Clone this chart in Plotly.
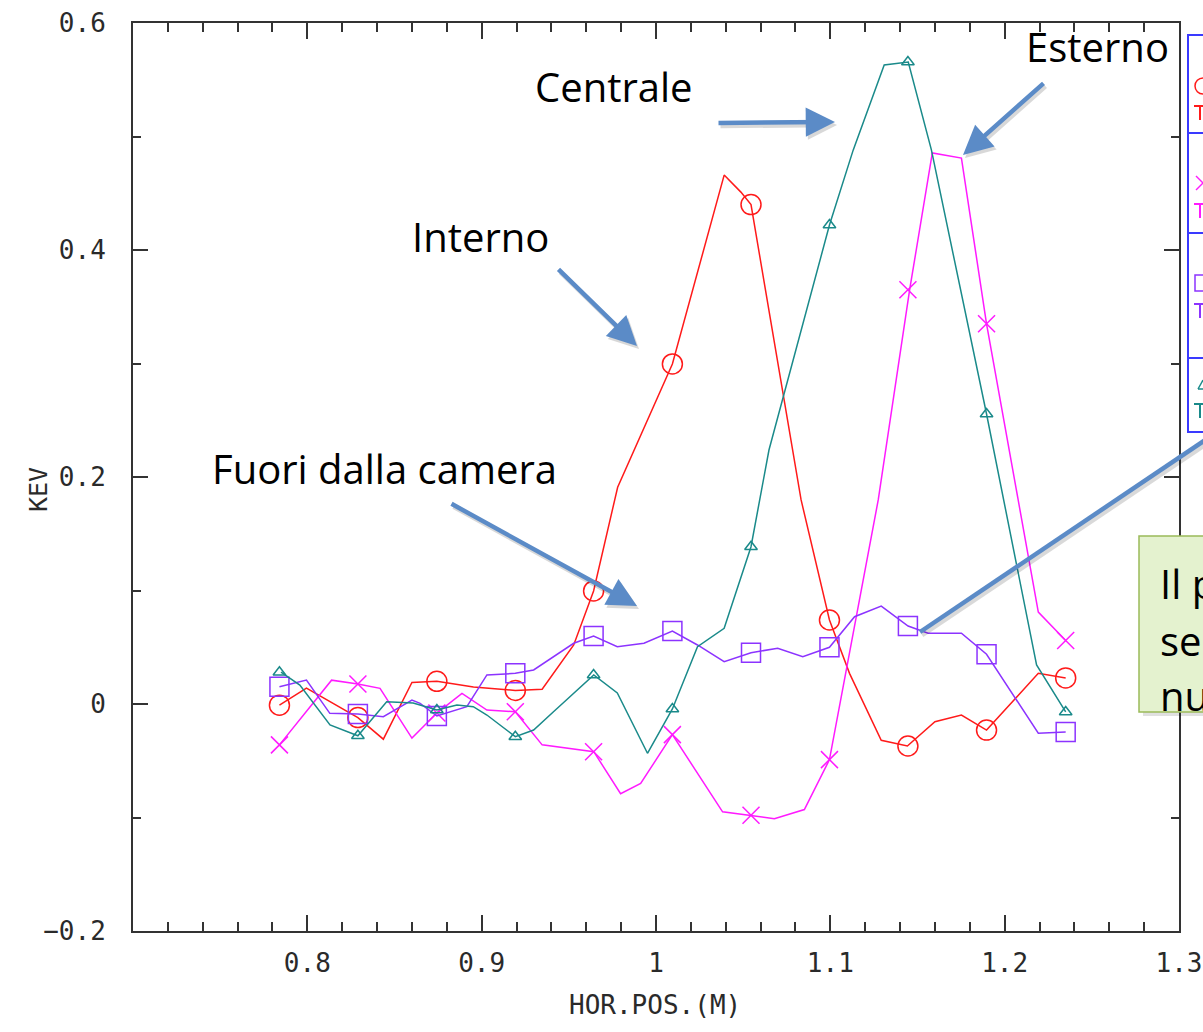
import plotly.graph_objects as go

# ---------------- data ----------------
marker_x = [0.784, 0.829, 0.8743, 0.9193, 0.9642, 1.0094, 1.0545, 1.0995, 1.1445, 1.1896, 1.235]

red_x = [0.784, 0.7995, 0.829, 0.8436, 0.860, 0.8743, 0.8953, 0.9193, 0.9347, 0.9528, 0.9642, 0.978,
         1.0094, 1.0391, 1.0487, 1.0545, 1.0832, 1.0995, 1.111, 1.1292, 1.1442, 1.16, 1.1752, 1.1896,
         1.2193, 1.235]
red_y = [-0.001, 0.014, -0.012, -0.031, 0.019, 0.020, 0.015, 0.012, 0.013, 0.052, 0.0996, 0.191,
         0.2996, 0.466, 0.451, 0.440, 0.180, 0.074, 0.027, -0.032, -0.037, -0.0156, -0.0097, -0.023,
         0.027, 0.023]
red_marker_y = [-0.001, -0.012, 0.020, 0.012, 0.0996, 0.2996, 0.440, 0.074, -0.037, -0.023, 0.023]

mag_x = [0.784, 0.8139, 0.829, 0.8417, 0.860, 0.8743, 0.8887, 0.903, 0.9193, 0.9347, 0.9643, 0.9797,
         0.9912, 1.0094, 1.0382, 1.0545, 1.0679, 1.0851, 1.0995, 1.1275, 1.1455, 1.1585, 1.1752, 1.1896,
         1.2193, 1.235]
mag_y = [-0.036, 0.021, 0.0176, 0.0138, -0.030, -0.008, 0.0094, -0.0053, -0.0068, -0.036, -0.042, -0.079,
         -0.070, -0.027, -0.095, -0.098, -0.101, -0.093, -0.049, 0.180, 0.365, 0.4855, 0.481, 0.335,
         0.081, 0.056]
mag_marker_y = [-0.036, 0.0176, -0.008, -0.0068, -0.042, -0.027, -0.098, -0.049, 0.365, 0.335, 0.056]

purple_x = [0.784, 0.7995, 0.8129, 0.829, 0.8436, 0.860, 0.8647, 0.8743, 0.8915, 0.903, 0.9193, 0.9298,
            0.9528, 0.9642, 0.9778, 0.9931, 1.0094, 1.0238, 1.0391, 1.0545, 1.0698, 1.0842, 1.0995,
            1.1139, 1.1292, 1.1446, 1.1561, 1.1752, 1.1896, 1.2193, 1.235]
purple_y = [0.0152, 0.0211, -0.0082, -0.0088, -0.0112, 0.0035, 0.0006, -0.0106, -0.0024, 0.0256, 0.027,
            0.030, 0.0535, 0.0599, 0.0505, 0.0535, 0.0643, 0.052, 0.0373, 0.0452, 0.0491, 0.0417, 0.050,
            0.0769, 0.0863, 0.0687, 0.0623, 0.0623, 0.0438, -0.0258, -0.0247]
purple_marker_y = [0.0152, -0.0088, -0.0106, 0.027, 0.0599, 0.0643, 0.0452, 0.050, 0.0687, 0.0438, -0.0247]

teal_x = [0.7849, 0.7957, 0.813, 0.829, 0.8455, 0.8607, 0.8743, 0.8858, 0.8952, 0.903, 0.9193, 0.9298,
          0.9412, 0.9643, 0.9778, 0.9951, 1.0094, 1.0238, 1.0391, 1.0545, 1.0648, 1.0995, 1.1131, 1.1309,
          1.1447, 1.158, 1.1896, 1.2183, 1.235]
teal_y = [0.028, 0.0167, -0.0185, -0.028, 0.002, 0.0009, -0.0053, -0.0009, -0.0024, -0.0097, -0.0288,
          -0.0229, -0.0068, 0.0256, 0.0097, -0.0434, -0.0044, 0.0505, 0.0667, 0.1386, 0.2238, 0.422, 0.488,
          0.563, 0.5656, 0.488, 0.2555, 0.0344, -0.007]
teal_marker_y = [0.028, -0.028, -0.0053, -0.0288, 0.0256, -0.0044, 0.1386, 0.422, 0.5656, 0.2555, -0.007]

x_tickvals = [0.8, 0.9, 1.0, 1.1, 1.2, 1.3]
x_ticktext = ["0.8", "0.9", "1", "1.1", "1.2", "1.3"]
y_tickvals = [-0.2, 0, 0.2, 0.4, 0.6]
y_ticktext = ["\u22120.2", "0", "0.2", "0.4", "0.6"]

x_title = "HOR.POS.(M)"
y_title = "KEV"
labels = ["Centrale", "Interno", "Fuori dalla camera", "Esterno"]
note_lines = ["Il p", "se", "nu"]

# ---------------- styling ----------------
RED = "#ff1a1a"
MAG = "#ff1aff"
PUR = "#8c33ff"
TEAL = "#1a8a8a"
ARROW = "#5b8bc7"
AXC = "#333333"
TXC = "#2a2a2a"
LEGC = "#3a3aff"

W, H = 1203, 1032
L, R, T, B = 133, 24, 23, 101
PW, PH = W - L - R, H - T - B


def px(xp):   # page pixel -> paper x
    return (xp - L) / PW


def py(yp):   # page pixel -> paper y
    return (H - B - yp) / PH


fig = go.Figure()

series = [
    (red_x, red_y, red_marker_y, RED, "circle-open", 20),
    (mag_x, mag_y, mag_marker_y, MAG, "x-thin-open", 17),
    (purple_x, purple_y, purple_marker_y, PUR, "square-open", 19),
    (teal_x, teal_y, teal_marker_y, TEAL, "triangle-up-open", 11),
]
for lx, ly, my, col, sym, sz in series:
    fig.add_trace(go.Scatter(x=lx, y=ly, mode="lines", line=dict(color=col, width=1.5),
                             showlegend=False, hoverinfo="skip"))
    fig.add_trace(go.Scatter(x=marker_x, y=my, mode="markers",
                             marker=dict(symbol=sym, size=sz, color=col,
                                         line=dict(color=col, width=1.5)),
                             showlegend=False, hoverinfo="skip"))

TICKFONT = dict(family="DejaVu Sans Mono", size=26, color=TXC)
axis_common = dict(showline=True, linewidth=2, linecolor=AXC, mirror="ticks", ticks="inside",
                   tickcolor=AXC, tickwidth=1.5, showgrid=False, zeroline=False, tickfont=TICKFONT)

fig.update_xaxes(range=[0.7, 1.3], tickmode="array", tickvals=x_tickvals, ticktext=x_ticktext,
                 ticklen=16, ticklabelstandoff=8,
                 minor=dict(tickmode="linear", tick0=0.7, dtick=0.02, ticks="inside", ticklen=9,
                            tickcolor=AXC, tickwidth=1.5),
                 **axis_common)
fig.update_yaxes(range=[-0.2, 0.6], tickmode="array", tickvals=y_tickvals, ticktext=y_ticktext,
                 ticklen=15, ticklabelstandoff=20,
                 minor=dict(tickmode="linear", tick0=-0.2, dtick=0.1, ticks="inside", ticklen=8,
                            tickcolor=AXC, tickwidth=1.5),
                 **axis_common)

shapes = []
# partial legend box at right edge
leg_x0, leg_x1 = px(1188), px(1270)
leg_tops = [35, 133, 233, 358, 432]
shapes.append(dict(type="rect", xref="paper", yref="paper", x0=leg_x0, x1=leg_x1,
                   y0=py(leg_tops[-1]), y1=py(leg_tops[0]), line=dict(color=LEGC, width=2),
                   fillcolor="white", layer="above"))
for yy in leg_tops[1:-1]:
    shapes.append(dict(type="line", xref="paper", yref="paper", x0=leg_x0, x1=leg_x1,
                       y0=py(yy), y1=py(yy), line=dict(color=LEGC, width=2)))


def seg(x0, y0, x1, y1, col, w=1.5):
    return dict(type="line", xref="paper", yref="paper", x0=px(x0), y0=py(y0), x1=px(x1),
                y1=py(y1), line=dict(color=col, width=w), layer="above")


# legend glyphs (only their left part is visible in the reference)
leg_cols = [RED, MAG, PUR, TEAL]
sym_y = [86, 183, 283, 385]
t_y = [106, 204, 304, 404]
cx = 1203
shapes.append(dict(type="circle", xref="paper", yref="paper", x0=px(cx - 8), x1=px(cx + 8),
                   y0=py(sym_y[0] + 8), y1=py(sym_y[0] - 8), line=dict(color=RED, width=1.5),
                   layer="above"))
shapes.append(seg(cx - 7, sym_y[1] - 7, cx + 7, sym_y[1] + 7, MAG))
shapes.append(seg(cx - 7, sym_y[1] + 7, cx + 7, sym_y[1] - 7, MAG))
shapes.append(dict(type="rect", xref="paper", yref="paper", x0=px(cx - 8), x1=px(cx + 8),
                   y0=py(sym_y[2] + 8), y1=py(sym_y[2] - 8), line=dict(color=PUR, width=1.5),
                   layer="above"))
shapes.append(seg(cx - 5, sym_y[3] + 4, cx + 5, sym_y[3] + 4, TEAL))
shapes.append(seg(cx - 5, sym_y[3] + 4, cx, sym_y[3] - 5, TEAL))
for col, ty in zip(leg_cols, t_y):
    shapes.append(seg(1194, ty, 1207, ty, col, 2))
    shapes.append(seg(1200, ty, 1200, ty + 14, col, 2))

# green note box (cut at the right edge)
shapes.append(dict(type="rect", xref="paper", yref="paper", x0=px(1143), x1=px(1320),
                   y0=py(716), y1=py(540), line=dict(width=0), fillcolor="rgba(0,0,0,0.12)",
                   layer="above"))
shapes.append(dict(type="rect", xref="paper", yref="paper", x0=px(1139), x1=px(1320),
                   y0=py(712), y1=py(536), line=dict(color="#9bbb59", width=1.5),
                   fillcolor="#e4f2cf", layer="above"))
# callout line from note to the purple point
for dx, dy, col, wd in [(2, 3, "rgba(0,0,0,0.15)", 5), (0, 0, ARROW, 4.5)]:
    shapes.append(dict(type="line", xref="paper", yref="paper", x0=px(920 + dx), y0=py(632 + dy),
                       x1=px(1235 + dx), y1=py(420 + dy), line=dict(color=col, width=wd),
                       layer="above"))

annotations = []
# arrows: (tail, head) in page pixels
arrows = [((717, 123), (835, 122)), ((1045, 82), (963, 155)), ((557, 268), (637, 346)),
          ((450, 503), (637, 606))]
for (tx, ty), (hx, hy) in arrows:
    for off, col in [((2, 3), "rgba(0,0,0,0.15)"), ((0, 0), ARROW)]:
        annotations.append(dict(xref="paper", yref="paper", x=px(hx + off[0]), y=py(hy + off[1]),
                                ax=tx - hx, ay=ty - hy, axref="pixel", ayref="pixel", text="",
                                showarrow=True, arrowhead=2, arrowsize=1.3, arrowwidth=4.5,
                                arrowcolor=col, standoff=0, startstandoff=0))

label_pos = [(614, 86), (480, 236), (384, 468), (1097, 47)]
for txt, (lx, ly) in zip(labels, label_pos):
    annotations.append(dict(xref="paper", yref="paper", x=px(lx), y=py(ly), text=txt,
                            showarrow=False, xanchor="center", yanchor="middle",
                            font=dict(family="Open Sans", size=40, color="black")))

for txt, ly in zip(note_lines, [583, 640, 695]):
    annotations.append(dict(xref="paper", yref="paper", x=px(1158), y=py(ly), text=txt,
                            showarrow=False, xanchor="left", yanchor="middle",
                            font=dict(family="Open Sans", size=40, color="black")))

# axis titles
annotations.append(dict(xref="paper", yref="paper", x=px(655), y=py(1005), text=x_title,
                        showarrow=False, xanchor="center", yanchor="middle",
                        font=dict(family="DejaVu Sans Mono", size=26, color=TXC)))
annotations.append(dict(xref="paper", yref="paper", x=px(38), y=py(490), text=y_title,
                        showarrow=False, xanchor="center", yanchor="middle", textangle=-90,
                        font=dict(family="DejaVu Sans Mono", size=25, color=TXC)))

fig.update_layout(width=W, height=H, margin=dict(l=L, r=R, t=T, b=B, autoexpand=False),
                  paper_bgcolor="white", plot_bgcolor="white", shapes=shapes,
                  annotations=annotations, showlegend=False)

fig.write_html("out.html", config={"displayModeBar": False},
               post_script="document.body.style.margin='0';document.body.style.overflow='hidden';")
